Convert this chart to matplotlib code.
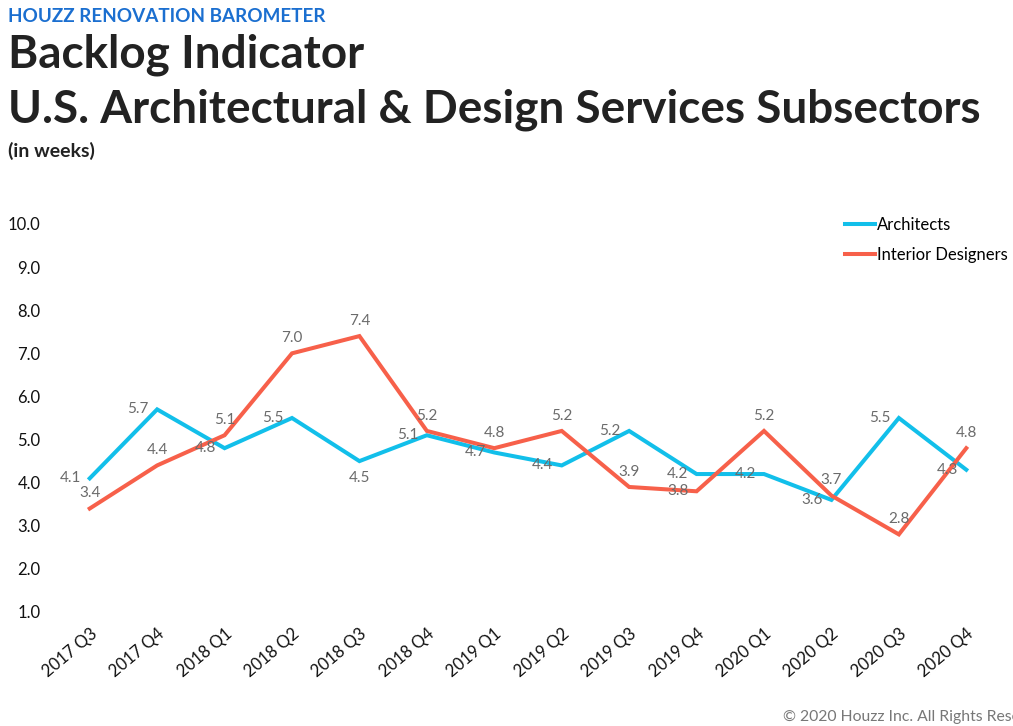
import numpy as np
import matplotlib
matplotlib.use("Agg")
import matplotlib.pyplot as plt

plt.rcParams['font.family'] = ['Lato', 'DejaVu Sans']

# ================= 数据 =================
quarters = ['2017 Q3', '2017 Q4', '2018 Q1', '2018 Q2', '2018 Q3', '2018 Q4',
            '2019 Q1', '2019 Q2', '2019 Q3', '2019 Q4', '2020 Q1', '2020 Q2',
            '2020 Q3', '2020 Q4']
architects = [4.1, 5.7, 4.8, 5.5, 4.5, 5.1, 4.7, 4.4, 5.2, 4.2, 4.2, 3.6, 5.5, 4.3]
interior = [3.4, 4.4, 5.1, 7.0, 7.4, 5.2, 4.8, 5.2, 3.9, 3.8, 5.2, 3.7, 2.8, 4.8]
yticks = [1.0, 2.0, 3.0, 4.0, 5.0, 6.0, 7.0, 8.0, 9.0, 10.0]

# 标签位置 (样式)
arch_pos = ['left'] * 14
arch_pos[4] = 'below'
int_pos = ['above'] * 14
int_pos[9] = 'left'

C_ARCH = '#12BFEA'
C_INT = '#F7604A'
C_LAB = '#6b6b6b'

fig = plt.figure(figsize=(10.13, 7.26), dpi=100)
ax = fig.add_axes([56 / 1013, 1 - 612 / 726, 944 / 1013, 388 / 726])

x = np.arange(len(quarters))
ax.plot(x, architects, color=C_ARCH, lw=2.9, label='Architects', clip_on=False,
        solid_joinstyle='miter')
ax.plot(x, interior, color=C_INT, lw=2.9, label='Interior Designers', clip_on=False,
        solid_joinstyle='miter')


def put_labels(vals, pos):
    for i, (v, p) in enumerate(zip(vals, pos)):
        if p == 'left':
            ax.annotate(f'{v:.1f}', (i, v), xytext=(-6, 0), textcoords='offset points',
                        ha='right', va='center', fontsize=11, color=C_LAB)
        elif p == 'above':
            ax.annotate(f'{v:.1f}', (i, v), xytext=(0, 6), textcoords='offset points',
                        ha='center', va='bottom', fontsize=11, color=C_LAB)
        else:
            ax.annotate(f'{v:.1f}', (i, v), xytext=(0, -7), textcoords='offset points',
                        ha='center', va='top', fontsize=11, color=C_LAB)


put_labels(architects, arch_pos)
put_labels(interior, int_pos)

ax.set_xlim(-0.5, len(quarters) - 0.5)
ax.set_ylim(1, 10)
ax.set_yticks(yticks)
ax.set_yticklabels([f'{t:.1f}' for t in yticks], fontsize=12)
ax.set_xticks(x)
ax.set_xticklabels(quarters, rotation=40, ha='right', rotation_mode='anchor', fontsize=12)
ax.tick_params(axis='both', length=0, colors='#111111')
ax.tick_params(axis='y', pad=11)
ax.tick_params(axis='x', pad=10)
for s in ax.spines.values():
    s.set_visible(False)

fig.legend(loc='upper left', bbox_to_anchor=(845 / 1013, 1 - 217 / 726), frameon=False,
           fontsize=12, handlelength=1.8, handletextpad=0.1, labelspacing=0.85,
           borderpad=0, borderaxespad=0)

# 标题
fig.text(8 / 1013, 1 - 16 / 726, 'HOUZZ RENOVATION BAROMETER', color='#1B6FD0',
         fontsize=13.6, fontweight='bold', va='center')
fig.text(8 / 1013, 1 - 55 / 726, 'Backlog Indicator', color='#222222',
         fontsize=33, fontweight='bold', va='center')
fig.text(8 / 1013, 1 - 110 / 726, 'U.S. Architectural & Design Services Subsectors',
         color='#222222', fontsize=33, fontweight='bold', va='center')
fig.text(8 / 1013, 1 - 151 / 726, '(in weeks)', color='#222222',
         fontsize=14, fontweight='bold', va='center')
fig.text(783 / 1013, 1 - 717 / 726, '© 2020 Houzz Inc. All Rights Reserved',
         color='#777777', fontsize=11.3, va='center')

fig.savefig('out.png', dpi=100)
